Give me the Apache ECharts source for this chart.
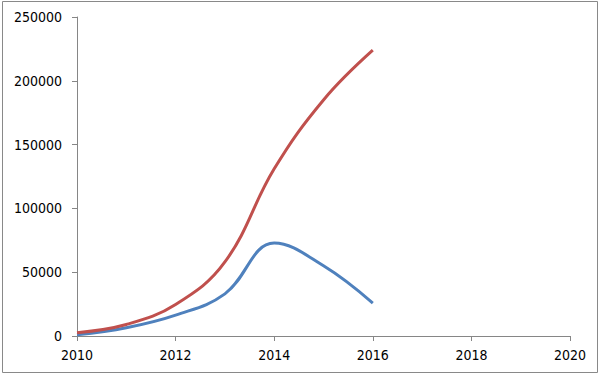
<!DOCTYPE html>
<html><head><meta charset="utf-8">
<script src="https://cdn.jsdelivr.net/npm/echarts@6/dist/echarts.min.js"></script>
<style>html,body{margin:0;padding:0;background:#fff}#c{width:600px;height:375px}
#c text{font-stretch:condensed !important;}</style>
</head><body><div id="c"></div>
<script>
const years = [2010, 2011, 2012, 2013, 2014, 2015, 2016];
const blueValues = [1000, 6500, 16400, 33000, 72800, 55000, 25800];
const redValues = [2600, 9000, 24700, 58000, 131000, 185000, 224000];
const yTicks = [0, 50000, 100000, 150000, 200000, 250000];
const xTicks = [2010, 2012, 2014, 2016, 2018, 2020];

const font = '"DejaVu Sans Condensed", "DejaVu Sans", sans-serif';
const chart = echarts.init(document.getElementById('c'), null, {renderer: 'svg'});
chart.setOption({
  animation: false,
  backgroundColor: '#fff',
  graphic: [{type: 'rect', shape: {x: 2.5, y: 1.5, width: 595, height: 371}, style: {fill: 'none', stroke: '#898989', lineWidth: 1}}],
  grid: {left: 77, right: 30, top: 17, bottom: 39},
  xAxis: {
    type: 'value', min: xTicks[0], max: xTicks[xTicks.length - 1], interval: 2,
    axisLine: {lineStyle: {color: '#868686', width: 1}},
    axisTick: {show: true, length: 5, lineStyle: {color: '#868686'}},
    splitLine: {show: false},
    axisLabel: {color: '#000', fontFamily: font, fontSize: 14, margin: 12, formatter: v => String(v)}
  },
  yAxis: {
    type: 'value', min: yTicks[0], max: yTicks[yTicks.length - 1], interval: 50000,
    axisLine: {show: true, lineStyle: {color: '#868686', width: 1}},
    axisTick: {show: true, length: 5, lineStyle: {color: '#868686'}},
    splitLine: {show: false},
    axisLabel: {color: '#000', fontFamily: font, fontSize: 14, margin: 15, formatter: v => String(v)}
  },
  series: [
    {type: 'line', data: years.map((y, i) => [y, blueValues[i]]), smooth: 0.4, showSymbol: false,
     lineStyle: {color: '#4F81BD', width: 3}, itemStyle: {color: '#4F81BD'}},
    {type: 'line', data: years.map((y, i) => [y, redValues[i]]), smooth: 0.4, showSymbol: false,
     lineStyle: {color: '#C0504D', width: 3}, itemStyle: {color: '#C0504D'}}
  ]
});
</script></body></html>
